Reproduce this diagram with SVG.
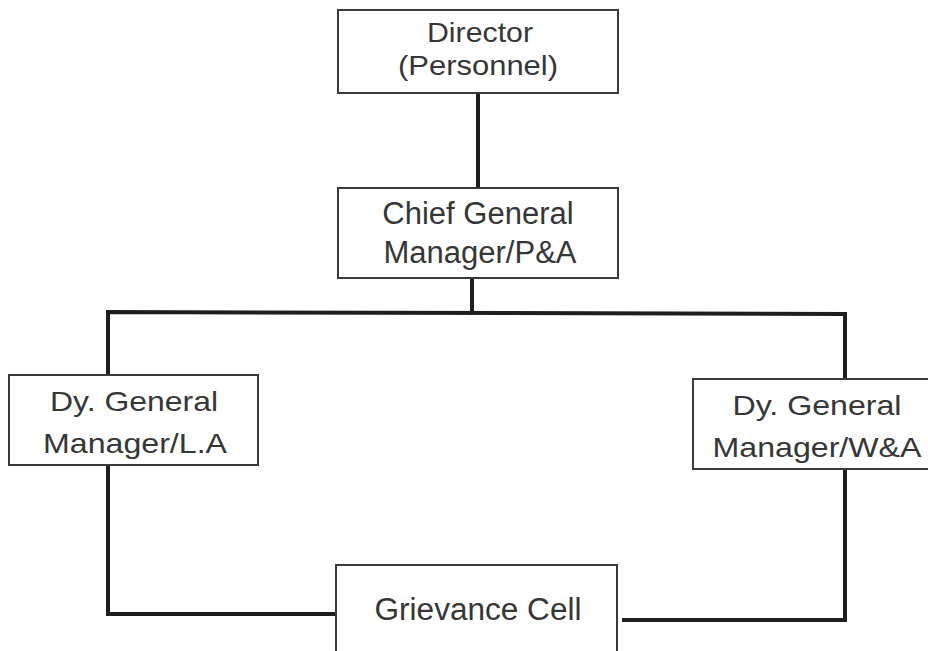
<svg xmlns="http://www.w3.org/2000/svg" width="928" height="651" viewBox="0 0 928 651">
<style>
.box{fill:#fff;stroke:#3a3a3a;stroke-width:2}
.lbl{font-family:"Liberation Sans",Arial,sans-serif;fill:#363636;text-anchor:middle}
.s28{font-size:28px}
.s31{font-size:31px}
.conn{fill:none;stroke:#1e1e1e;stroke-width:4;stroke-linecap:square;stroke-linejoin:miter}
</style>
<rect width="928" height="651" fill="#fff"/>
<g id="connectors">
<line class="conn" x1="478" y1="93" x2="478" y2="188"/>
<line class="conn" x1="472" y1="278" x2="472" y2="313"/>
<polyline class="conn" points="108,375 108,312 845,314 845,379"/>
<polyline class="conn" points="108,465 108,614 336,614"/>
<polyline class="conn" points="624,620 845,620 845,469"/>
</g>
<g id="director">
<rect class="box" x="338" y="10" width="280" height="83"/>
<text class="lbl s28" x="480" y="42" textLength="106" lengthAdjust="spacingAndGlyphs">Director</text>
<text class="lbl s28" x="478" y="75" textLength="160" lengthAdjust="spacingAndGlyphs">(Personnel)</text>
</g>
<g id="cgm">
<rect class="box" x="338" y="188" width="280" height="90"/>
<text class="lbl s31" x="478" y="224">Chief General</text>
<text class="lbl s31" x="480" y="263">Manager/P&amp;A</text>
</g>
<g id="dgm-la">
<rect class="box" x="9" y="375" width="249" height="90"/>
<text class="lbl s28" x="134" y="411" textLength="168" lengthAdjust="spacingAndGlyphs">Dy. General</text>
<text class="lbl s28" x="135" y="453" textLength="184" lengthAdjust="spacingAndGlyphs">Manager/L.A</text>
</g>
<g id="dgm-wa">
<rect class="box" x="693" y="379" width="245" height="90"/>
<text class="lbl s28" x="817" y="415" textLength="169" lengthAdjust="spacingAndGlyphs">Dy. General</text>
<text class="lbl s28" x="817" y="457" textLength="209" lengthAdjust="spacingAndGlyphs">Manager/W&amp;A</text>
</g>
<g id="grievance">
<rect class="box" x="336" y="565" width="281" height="100"/>
<text class="lbl s31" x="478" y="620" textLength="207" lengthAdjust="spacingAndGlyphs">Grievance Cell</text>
</g>
</svg>
